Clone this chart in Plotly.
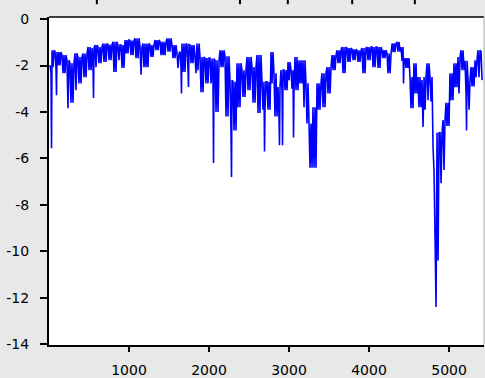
import plotly.graph_objects as go

# Series sampled in columns: position, upper value, lower value of the dense band
col_x = [12, 38, 75, 100, 162, 225, 262, 325, 362, 425, 488, 538, 575, 612, 675, 738,
         800, 862, 900, 950, 1012, 1075, 1138, 1175, 1262, 1325, 1388, 1475, 1538, 1600,
         1638, 1662, 1725, 1762, 1825, 1850, 1888, 1950, 2012, 2038, 2075, 2138, 2200,
         2262, 2300, 2350, 2412, 2475, 2538, 2600, 2662, 2725, 2775, 2812, 2862, 2900,
         2938, 2988, 3025, 3075, 3125, 3175, 3212, 3250, 3300, 3350, 3412, 3475, 3538,
         3600, 3662, 3725, 3788, 3850, 3912, 3975, 4038, 4100, 4162, 4225, 4288, 4350,
         4400, 4450, 4512, 4562, 4612, 4662, 4688, 4725, 4762, 4800, 4825, 4850, 4888,
         4925, 4962, 5012, 5062, 5112, 5150, 5200, 5238, 5275, 5325, 5362, 5400]
col_hi = [-1.98, -1.34, -1.40, -1.42, -1.55, -1.77, -1.90, -1.47, -1.63, -1.48, -1.20,
          -1.25, -1.12, -1.20, -1.05, -1.10, -0.98, -1.12, -1.12, -0.90, -0.92, -0.83,
          -1.20, -1.05, -1.12, -0.90, -0.98, -0.83, -1.12, -1.48, -1.40, -1.05, -1.10,
          -1.12, -1.63, -1.05, -1.63, -1.68, -1.68, -1.70, -1.77, -1.34, -1.60, -2.63,
          -2.70, -1.90, -2.20, -1.63, -2.07, -1.55, -2.70, -2.70, -1.42, -2.33, -2.93,
          -2.20, -2.20, -1.85, -2.20, -1.63, -1.77, -1.77, -2.77, -4.50, -3.80, -2.77,
          -2.33, -2.07, -1.55, -1.34, -1.20, -1.25, -1.30, -1.35, -1.25, -1.20, -1.20,
          -1.20, -1.34, -1.48, -1.05, -0.98, -1.20, -1.68, -2.50, -1.90, -2.50, -2.63,
          -2.50, -1.90, -2.50, -5.50, -9.40, -4.90, -4.90, -4.35, -3.60, -2.33, -1.90,
          -1.63, -1.34, -1.80, -2.63, -2.07, -1.77, -1.34, -1.40]
col_lo = [-2.30, -2.07, -2.10, -2.00, -2.33, -3.84, -3.60, -3.06, -2.77, -2.50, -2.20,
          -2.10, -2.07, -1.90, -1.85, -1.77, -2.28, -1.77, -2.10, -1.48, -1.55, -1.68,
          -2.40, -2.07, -1.63, -1.34, -1.55, -1.40, -1.68, -2.10, -2.10, -2.28, -2.20,
          -1.90, -2.33, -2.20, -3.15, -2.77, -2.77, -2.80, -4.00, -2.07, -4.20, -4.80,
          -4.80, -3.80, -3.36, -3.06, -3.60, -4.05, -3.90, -3.90, -2.77, -4.20, -4.20,
          -3.10, -3.06, -2.63, -3.00, -3.06, -2.77, -3.80, -4.50, -6.40, -6.40, -3.90,
          -3.80, -3.20, -2.20, -1.90, -2.33, -1.85, -1.77, -1.85, -2.33, -1.77, -2.07,
          -2.10, -1.68, -2.33, -1.42, -1.40, -1.80, -2.10, -3.84, -3.20, -3.80, -4.65,
          -3.90, -3.50, -3.55, -6.60, -12.40, -10.40, -7.07, -6.50, -4.60, -3.50, -2.93,
          -3.20, -2.20, -3.20, -3.90, -2.90, -2.50, -2.50, -2.63]

# Isolated single-sample drops below the band
spike_x = [12, 75, 538, 1638, 1725, 2038, 2262, 2662, 2862, 2900, 3025, 4400, 5200]
spike_y = [-5.56, -3.28, -3.40, -3.20, -2.93, -6.20, -6.80, -5.70, -5.43, -5.43, -5.10,
           -2.77, -4.80]

x_ticks = [1000, 2000, 3000, 4000, 5000]
y_ticks = [0, -2, -4, -6, -8, -10, -12, -14]

# Tick stubs of the neighbouring panel above, as fractions of the plot width
upper_tick_pos = [0.110, 0.439, 0.549, 0.697, 0.841]

spikes = dict(zip(spike_x, spike_y))
units_per_px = 12.5

# Each column is swept between its upper and lower values about every 2 px
xs, ys = [], []
for i, (x0, hi, lo) in enumerate(zip(col_x, col_hi, col_lo)):
    x1 = col_x[i + 1] if i + 1 < len(col_x) else x0 + 2 * units_per_px
    n = max(2, int(round((x1 - x0) / units_per_px / 1.0)))
    for k in range(n):
        xs.append(x0 + (x1 - x0) * k / n)
        ys.append(hi if k % 2 == 0 else lo)
        if k == n // 2 and x0 in spikes:
            xs.append(x0 + (x1 - x0) * (k + 0.5) / n)
            ys.append(spikes[x0])

fig = go.Figure(go.Scatter(x=xs, y=ys, mode="lines",
                           line=dict(color="#0000ff", width=1.6, simplify=False)))

shapes = [
    dict(type="line", xref="paper", yref="paper", x0=0, x1=1, y0=1, y1=1,
         line=dict(color="#000000", width=1.5)),
    dict(type="line", xref="paper", yref="paper", x0=1, x1=1, y0=0, y1=1,
         line=dict(color="#b0b0b0", width=1)),
]
for p in upper_tick_pos:
    shapes.append(dict(type="line", xref="paper", yref="paper", x0=p, x1=p,
                       y0=1.039, y1=1.06, line=dict(color="#000000", width=2)))

axis_font = dict(family="DejaVu Sans, sans-serif", size=14, color="#000000")
fig.update_layout(
    width=485, height=378,
    margin=dict(l=49, r=1, t=17, b=33),
    paper_bgcolor="#e8e8e8",
    plot_bgcolor="#ffffff",
    showlegend=False,
    xaxis=dict(range=[0, 5437], tickvals=x_ticks, ticktext=[str(v) for v in x_ticks],
               ticks="outside", ticklen=5, tickwidth=1.5, tickcolor="#000",
               showgrid=False, zeroline=False, showline=True, linecolor="#000",
               linewidth=2, tickfont=axis_font, ticklabelstandoff=6),
    yaxis=dict(range=[-14.04, 0.09], tickvals=y_ticks, ticktext=[str(v) for v in y_ticks],
               ticks="outside", ticklen=7, tickwidth=1.5, tickcolor="#000",
               showgrid=False, zeroline=False, showline=True, linecolor="#000",
               linewidth=2, tickfont=axis_font, ticklabelstandoff=8),
    shapes=shapes,
)

fig.write_html("out.html")
